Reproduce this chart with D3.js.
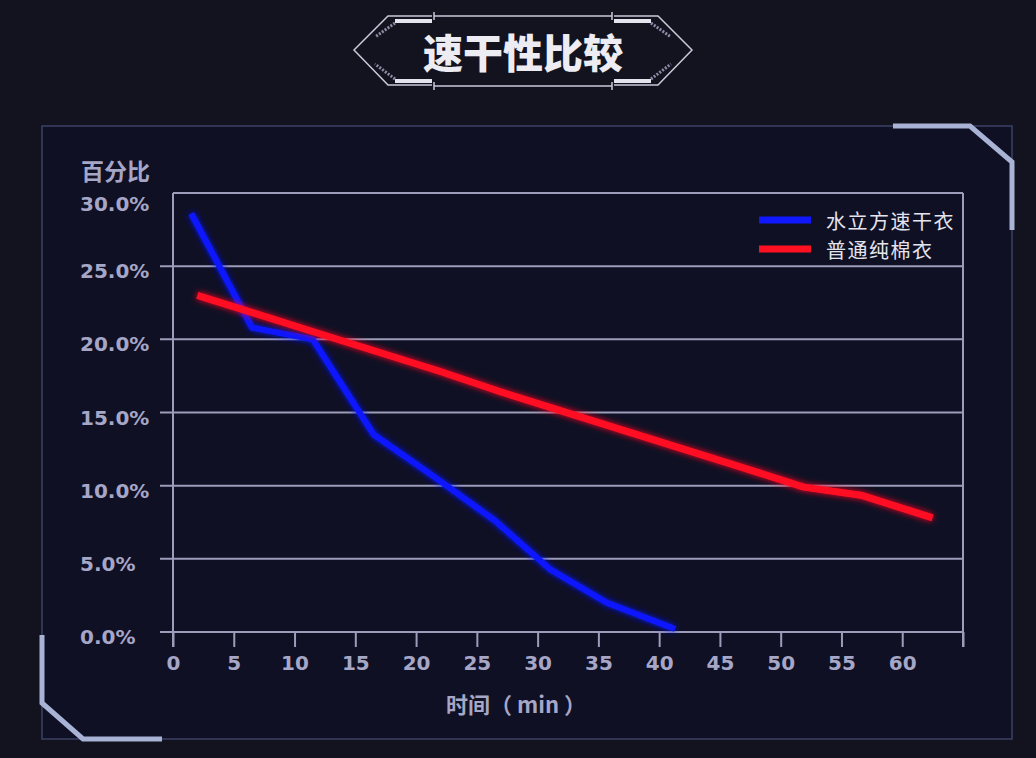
<!DOCTYPE html>
<html>
<head>
<meta charset="utf-8">
<script src="https://cdn.jsdelivr.net/npm/d3@7"></script>
<style>
  html, body { margin: 0; padding: 0; background: #13131f; }
  svg { display: block; }
</style>
</head>
<body>
<svg id="chart"></svg>
<script>
// data
let quickTimes = [1.5, 6.5, 11.5, 16.5, 21.5, 26.5, 31, 35.7, 41.3];
let quickValues = [28.6, 20.8, 20.0, 13.5, 10.6, 7.6, 4.3, 2.0, 0.2];
let cottonTimes = [2, 7, 12, 17, 22, 27, 32, 37, 42, 47, 51.9, 56.6, 62.5];
let cottonValues = [23.0, 21.7, 20.4, 19.1, 17.8, 16.4, 15.1, 13.8, 12.5, 11.2, 9.9, 9.35, 7.8];
let seriesNames = ["水立方速干衣", "普通纯棉衣"];
let seriesColors = ["#1018ff", "#ff1020"];
let xTicks = [0, 5, 10, 15, 20, 25, 30, 35, 40, 45, 50, 55, 60, 65];
let yTicks = [0, 5, 10, 15, 20, 25, 30];
let titleText = "速干性比较";
let yTitle = "百分比";
let xTitle = "时间（ min ）";

let width = 1036;
let height = 758;
let plotLeft = 173, plotRight = 963, plotTop = 193, plotBottom = 632;

let gridColor = "#9d9dba";
let labelColor = "#a6a6c6";
let accent = "#a9b3d6";

let chart = d3.select("#chart").attr("width", width).attr("height", height);

chart.append("rect").attr("width", width).attr("height", height).attr("fill", "#13131f");

// glow filter for the lines
let defs = chart.append("defs");
let glow = defs.append("filter").attr("id", "glow")
    .attr("x", "-10%").attr("y", "-10%").attr("width", "120%").attr("height", "120%");
glow.append("feGaussianBlur").attr("stdDeviation", 3).attr("result", "b");
let merge = glow.append("feMerge");
merge.append("feMergeNode").attr("in", "b");
merge.append("feMergeNode").attr("in", "SourceGraphic");

// panel frame
chart.append("rect")
    .attr("x", 42).attr("y", 126).attr("width", 970).attr("height", 613)
    .attr("fill", "#0f1024")
    .attr("stroke", "#3c4066").attr("stroke-width", 1.5);

chart.append("path")
    .attr("d", "M893,126 L970,126 L1012,162 L1012,230")
    .attr("fill", "none").attr("stroke", accent).attr("stroke-width", 5);
chart.append("path")
    .attr("d", "M42,635 L42,703 L83,739 L162,739")
    .attr("fill", "none").attr("stroke", accent).attr("stroke-width", 5);

// title badge
let badge = chart.append("g");
let cx = 523;
[-1, 1].forEach(function (s) {
    let tip = cx + s * 169, inner = cx + s * 128, edge = cx + s * 91;
    badge.append("path")
        .attr("d", "M" + edge + ",16 L" + (cx + s * 135) + ",16 L" + tip + ",50 L" + (cx + s * 135) + ",85 L" + edge + ",85")
        .attr("fill", "none").attr("stroke", "#c8cadc").attr("stroke-width", 1.5);
    badge.append("path")
        .attr("d", "M" + edge + ",21 L" + inner + ",21")
        .attr("stroke", "#e4e4ee").attr("stroke-width", 4);
    badge.append("path")
        .attr("d", "M" + edge + ",81 L" + inner + ",81")
        .attr("stroke", "#e4e4ee").attr("stroke-width", 4);
    badge.append("path")
        .attr("d", "M" + inner + ",23 L" + (cx + s * 148) + ",37")
        .attr("stroke", "#8a8ca6").attr("stroke-width", 3).attr("stroke-dasharray", "2,1.5");
    badge.append("path")
        .attr("d", "M" + inner + ",79 L" + (cx + s * 148) + ",64")
        .attr("stroke", "#8a8ca6").attr("stroke-width", 3).attr("stroke-dasharray", "2,1.5");
    badge.append("path")
        .attr("d", "M" + (cx + s * 89) + ",12 L" + (cx + s * 89) + ",20 M" + (cx + s * 89) + ",82 L" + (cx + s * 89) + ",90")
        .attr("stroke", "#c8cadc").attr("stroke-width", 1.5);
});
badge.append("path")
    .attr("d", "M" + (cx - 89) + ",16 L" + (cx + 89) + ",16 M" + (cx - 89) + ",86 L" + (cx + 89) + ",86")
    .attr("stroke", "#c8cadc").attr("stroke-width", 1.5);

chart.append("text")
    .attr("x", cx).attr("y", 51)
    .attr("text-anchor", "middle").attr("dominant-baseline", "central")
    .style("font-family", "'Noto Sans CJK SC', sans-serif")
    .style("font-weight", 900).style("font-size", "40px")
    .attr("fill", "#ececf2")
    .text(titleText);

// scales
let xscale = d3.scaleLinear().domain([0, 65]).range([plotLeft, plotRight]);
let yscale = d3.scaleLinear().domain([0, 30]).range([plotBottom, plotTop]);

// horizontal grid
chart.append("g").selectAll("line").data(yTicks).enter().append("line")
    .attr("x1", d => d === 30 ? plotLeft : plotLeft - 13)
    .attr("x2", plotRight)
    .attr("y1", d => yscale(d)).attr("y2", d => yscale(d))
    .attr("stroke", gridColor).attr("stroke-width", 2);

// y tick labels, left aligned like the picture
chart.append("g").selectAll("text").data(yTicks).enter().append("text")
    .attr("x", 80)
    .attr("y", d => yscale(d) + (d === 30 ? 11 : 5))
    .attr("dominant-baseline", "central")
    .style("font-family", "'DejaVu Sans', sans-serif")
    .style("font-weight", "bold").style("font-size", "20px")
    .attr("fill", labelColor)
    .text(d => d3.format(".1f")(d) + "%");

// x axis
let xaxis = chart.append("g")
    .attr("transform", "translate(0," + plotBottom + ")")
    .call(d3.axisBottom(xscale).tickValues(xTicks).tickSize(15).tickPadding(9)
        .tickFormat(d => d === 65 ? "" : d));
xaxis.select(".domain").remove();
xaxis.selectAll(".tick line").attr("stroke", gridColor).attr("stroke-width", 2);
xaxis.selectAll(".tick text")
    .attr("fill", labelColor)
    .style("font-family", "'DejaVu Sans', sans-serif")
    .style("font-weight", "bold").style("font-size", "20px");

// vertical frame lines of the plot
chart.append("line")
    .attr("x1", plotLeft).attr("x2", plotLeft).attr("y1", plotTop).attr("y2", plotBottom + 15)
    .attr("stroke", gridColor).attr("stroke-width", 2);
chart.append("line")
    .attr("x1", plotRight).attr("x2", plotRight).attr("y1", plotTop).attr("y2", plotBottom + 15)
    .attr("stroke", gridColor).attr("stroke-width", 2);

// axis titles
chart.append("text")
    .attr("x", 81).attr("y", 170).attr("dominant-baseline", "central")
    .style("font-family", "'Noto Sans CJK SC', sans-serif")
    .style("font-weight", "bold").style("font-size", "23px")
    .attr("fill", labelColor).text(yTitle);

chart.append("text")
    .attr("x", 446).attr("y", 703).attr("dominant-baseline", "central")
    .style("font-family", "'Noto Sans CJK SC', sans-serif")
    .style("font-weight", "bold").style("font-size", "22px")
    .attr("fill", labelColor).text(xTitle);

// series lines
let line = d3.line().x(d => xscale(d[0])).y(d => yscale(d[1]));
let series = [
    d3.zip(quickTimes, quickValues),
    d3.zip(cottonTimes, cottonValues)
];

chart.append("g").selectAll("path").data(series).enter().append("path")
    .attr("d", line)
    .attr("fill", "none")
    .attr("stroke", (d, i) => seriesColors[i])
    .attr("stroke-width", (d, i) => i === 0 ? 6 : 7)
    .attr("stroke-linejoin", "round")
    .attr("filter", "url(#glow)");

// legend
let legend = chart.append("g").selectAll("g").data(seriesNames).enter().append("g")
    .attr("transform", (d, i) => "translate(759," + (220 + i * 29) + ")");
legend.append("line")
    .attr("x1", 0).attr("x2", 52)
    .attr("stroke", (d, i) => seriesColors[i]).attr("stroke-width", 7);
legend.append("text")
    .attr("x", 67).attr("dominant-baseline", "central")
    .style("font-family", "'Noto Sans CJK SC', sans-serif")
    .style("font-size", "20px").style("letter-spacing", "1.5px")
    .attr("fill", "#e4e4ee")
    .text(d => d);
</script>
</body>
</html>
